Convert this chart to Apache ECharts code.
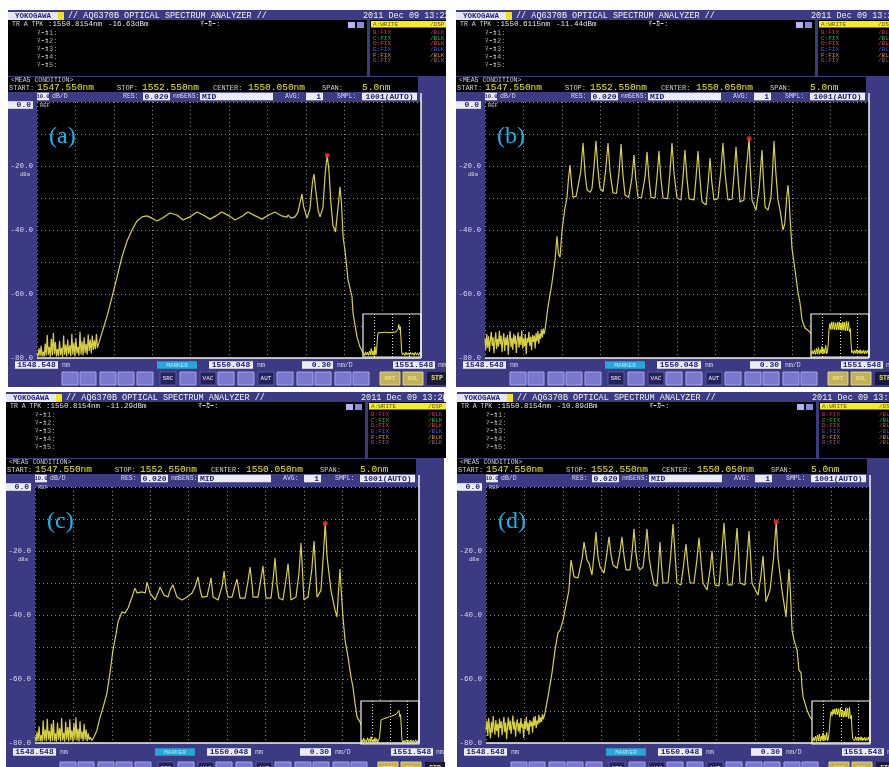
<!DOCTYPE html>
<html>
<head>
<meta charset="utf-8">
<title>AQ6370B spectra (a)-(d)</title>
<script src="https://cdn.jsdelivr.net/npm/echarts@6/dist/echarts.min.js"></script>
<style>
html, body { margin: 0; padding: 0; background: #fff; }
#chart { width: 889px; height: 767px; }
</style>
</head>
<body>
<div id="chart"></div>
<script>
// zoomed wavelength window, 0.30 nm/D
const xTicks = [1548.548, 1548.848, 1549.148, 1549.448, 1549.748, 1550.048, 1550.348, 1550.648, 1550.948, 1551.248, 1551.548];
const yLabels = [-20, -40, -60, -80];

// measured traces [nm, dBm]
const traceA = [
  [1548.548,-78.5],[1548.556,-79.6],[1548.564,-77.0],[1548.572,-79.4],[1548.580,-76.2],[1548.588,-79.5],[1548.596,-78.0],[1548.604,-79.6],
  [1548.612,-75.5],[1548.620,-79.3],[1548.628,-72.8],[1548.636,-79.0],[1548.644,-76.5],[1548.652,-79.6],[1548.660,-74.0],[1548.668,-79.2],
  [1548.676,-72.2],[1548.684,-78.8],[1548.692,-75.0],[1548.700,-79.5],[1548.708,-77.2],[1548.716,-79.4],[1548.724,-74.6],[1548.732,-79.1],
  [1548.740,-76.8],[1548.748,-79.6],[1548.756,-73.0],[1548.764,-79.0],[1548.772,-75.8],[1548.780,-79.5],[1548.788,-74.2],[1548.796,-78.8],
  [1548.804,-76.0],[1548.812,-79.4],[1548.820,-72.5],[1548.828,-79.0],[1548.836,-75.2],[1548.844,-79.5],[1548.852,-73.8],[1548.860,-78.6],
  [1548.868,-76.5],[1548.876,-79.3],[1548.884,-71.8],[1548.892,-78.9],[1548.900,-74.8],[1548.908,-79.2],[1548.916,-73.5],[1548.924,-78.4],
  [1548.932,-75.6],[1548.940,-79.0],[1548.948,-72.6],[1548.956,-77.8],[1548.964,-74.2],[1548.972,-78.6],[1548.980,-73.0],[1548.988,-77.5],
  [1548.996,-74.5],[1549.004,-77.2],[1549.012,-72.5],[1549.020,-76.8],[1549.030,-75.5],
  [1549.040,-75.3],[1549.064,-71.0],[1549.095,-67.0],[1549.134,-61.0],[1549.173,-54.7],[1549.212,-48.4],[1549.251,-43.5],[1549.290,-40.0],
  [1549.329,-37.2],[1549.368,-35.9],[1549.407,-35.6],[1549.446,-36.3],[1549.486,-37.2],[1549.532,-36.2],[1549.587,-34.7],[1549.642,-35.3],
  [1549.689,-36.9],[1549.743,-35.9],[1549.798,-34.4],[1549.850,-35.4],[1549.900,-36.6],[1549.950,-35.5],[1549.993,-34.4],[1550.045,-35.5],
  [1550.095,-36.9],[1550.150,-35.7],[1550.196,-34.4],[1550.250,-35.5],[1550.306,-36.6],[1550.355,-35.4],[1550.407,-34.4],[1550.460,-35.6],
  [1550.501,-36.0],[1550.509,-35.3],[1550.532,-36.3],[1550.564,-35.9],[1550.587,-34.4],[1550.605,-31.0],[1550.618,-28.7],[1550.630,-32.5],
  [1550.657,-36.3],[1550.680,-33.5],[1550.700,-25.0],[1550.712,-22.5],[1550.725,-27.5],[1550.745,-34.0],[1550.759,-35.9],[1550.782,-33.0],
  [1550.800,-22.0],[1550.8154,-16.63],[1550.829,-21.5],[1550.845,-32.0],[1550.860,-38.5],[1550.880,-40.6],[1550.892,-41.0],[1550.905,-31.0],
  [1550.915,-26.5],[1550.926,-31.5],[1550.940,-42.5],[1550.954,-46.3],[1550.978,-55.6],[1551.009,-60.9],[1551.017,-66.0],[1551.048,-73.4],
  [1551.071,-76.5],[1551.095,-78.4],[1551.120,-79.0],[1551.150,-78.2],[1551.200,-79.3],[1551.250,-77.8],[1551.300,-79.1],[1551.350,-78.0],
  [1551.400,-79.4],[1551.450,-78.3],[1551.500,-79.2],[1551.548,-78.6]
];
const traceB = [
  [1548.548,-74.0],[1548.555,-77.5],[1548.562,-72.5],[1548.569,-76.8],[1548.576,-73.2],[1548.583,-78.0],[1548.590,-74.5],[1548.597,-71.8],
  [1548.604,-76.2],[1548.611,-73.5],[1548.618,-78.5],[1548.625,-74.8],[1548.632,-72.0],[1548.639,-77.2],[1548.646,-74.0],[1548.653,-76.5],
  [1548.660,-71.5],[1548.667,-75.8],[1548.674,-73.0],[1548.681,-78.2],[1548.688,-74.6],[1548.695,-72.2],[1548.702,-77.8],[1548.709,-73.6],
  [1548.716,-76.0],[1548.723,-72.8],[1548.730,-79.0],[1548.737,-74.2],[1548.744,-71.6],[1548.751,-76.6],[1548.758,-73.8],[1548.765,-77.5],
  [1548.772,-72.4],[1548.779,-75.5],[1548.786,-73.0],[1548.793,-78.4],[1548.800,-74.4],[1548.807,-72.0],[1548.814,-76.8],[1548.821,-73.2],
  [1548.828,-75.9],[1548.835,-71.4],[1548.842,-77.0],[1548.849,-74.0],[1548.856,-76.4],[1548.863,-72.6],[1548.870,-78.8],[1548.877,-73.8],
  [1548.884,-75.2],[1548.891,-71.8],[1548.898,-76.2],[1548.905,-73.4],[1548.912,-77.6],[1548.919,-72.8],[1548.926,-75.0],[1548.933,-73.0],
  [1548.940,-77.0],[1548.947,-72.2],[1548.954,-74.8],[1548.961,-71.6],[1548.968,-75.5],[1548.975,-72.4],[1548.982,-74.0],[1548.989,-71.0],
  [1548.996,-73.6],[1549.003,-70.8],[1549.010,-72.5],
  [1549.017,-71.2],[1549.040,-64.0],[1549.071,-56.6],[1549.095,-49.4],[1549.110,-42.0],[1549.122,-47.5],[1549.134,-48.5],[1549.150,-40.0],
  [1549.170,-33.8],[1549.189,-29.7],[1549.200,-24.0],[1549.212,-19.7],[1549.224,-25.5],[1549.236,-29.7],[1549.260,-29.5],[1549.275,-29.0],
  [1549.295,-22.0],[1549.314,-12.8],[1549.330,-22.5],[1549.345,-27.5],[1549.370,-28.2],[1549.384,-27.0],[1549.400,-20.0],[1549.415,-12.2],
  [1549.430,-21.0],[1549.446,-26.9],[1549.470,-28.0],[1549.490,-21.5],[1549.509,-12.8],[1549.525,-22.0],[1549.548,-28.4],[1549.575,-28.6],
  [1549.595,-22.0],[1549.611,-13.1],[1549.625,-22.5],[1549.642,-29.1],[1549.670,-29.8],[1549.695,-24.0],[1549.712,-16.6],[1549.726,-24.0],
  [1549.743,-29.7],[1549.770,-30.0],[1549.798,-23.5],[1549.814,-15.6],[1549.828,-23.5],[1549.845,-29.8],[1549.876,-30.0],[1549.893,-23.0],
  [1549.907,-15.3],[1549.921,-23.5],[1549.939,-30.0],[1549.975,-30.2],[1549.992,-22.5],[1550.009,-12.8],[1550.025,-22.5],[1550.048,-30.0],
  [1550.079,-30.6],[1550.095,-23.5],[1550.110,-15.0],[1550.125,-23.5],[1550.142,-30.3],[1550.181,-30.6],[1550.197,-23.5],[1550.212,-15.3],
  [1550.227,-24.0],[1550.243,-31.2],[1550.275,-32.2],[1550.292,-25.0],[1550.306,-17.5],[1550.320,-25.0],[1550.337,-30.6],[1550.368,-30.2],
  [1550.390,-22.0],[1550.407,-12.8],[1550.424,-22.5],[1550.446,-30.6],[1550.478,-30.4],[1550.494,-22.5],[1550.509,-14.0],[1550.524,-23.0],
  [1550.540,-31.2],[1550.571,-30.6],[1550.590,-21.0],[1550.6115,-11.44],[1550.620,-20.5],[1550.634,-30.6],[1550.665,-33.8],[1550.690,-27.0],
  [1550.712,-15.0],[1550.724,-25.0],[1550.736,-32.8],[1550.759,-33.8],[1550.782,-30.0],[1550.795,-21.0],[1550.806,-12.2],[1550.820,-22.0],
  [1550.837,-30.6],[1550.853,-33.8],[1550.876,-40.0],[1550.890,-38.0],[1550.905,-30.0],[1550.915,-26.0],[1550.925,-31.0],[1550.931,-35.9],
  [1550.946,-45.6],[1550.970,-52.5],[1550.993,-59.5],[1551.009,-62.8],[1551.025,-68.1],[1551.048,-70.6],[1551.071,-71.3],
  [1551.120,-73.5],[1551.180,-71.8],[1551.240,-74.6],[1551.300,-72.2],[1551.360,-75.0],[1551.420,-72.6],[1551.480,-74.2],[1551.548,-73.0]
];
const traceC = [
  [1548.548,-78.0],[1548.556,-79.6],[1548.564,-76.5],[1548.572,-79.4],[1548.580,-74.8],[1548.588,-79.5],[1548.596,-77.5],[1548.604,-79.6],
  [1548.612,-73.0],[1548.620,-79.2],[1548.628,-75.8],[1548.636,-79.5],[1548.644,-72.4],[1548.652,-79.0],[1548.660,-76.2],[1548.668,-79.6],
  [1548.676,-74.0],[1548.684,-79.3],[1548.692,-72.8],[1548.700,-79.4],[1548.708,-77.0],[1548.716,-79.6],[1548.724,-73.6],[1548.732,-79.0],
  [1548.740,-75.4],[1548.748,-79.5],[1548.756,-72.2],[1548.764,-79.2],[1548.772,-76.8],[1548.780,-79.6],[1548.788,-73.4],[1548.796,-79.0],
  [1548.804,-75.0],[1548.812,-79.5],[1548.820,-72.6],[1548.828,-79.1],[1548.836,-76.0],[1548.844,-79.6],[1548.852,-73.8],[1548.860,-79.0],
  [1548.868,-72.0],[1548.876,-79.3],[1548.884,-75.6],[1548.892,-79.5],[1548.900,-73.2],[1548.908,-78.8],[1548.916,-76.4],[1548.924,-79.4],
  [1548.932,-74.0],[1548.940,-79.0],[1548.948,-75.8],[1548.956,-79.4],[1548.964,-77.0],[1548.972,-79.0],[1548.980,-78.2],[1548.992,-79.2],
  [1549.004,-78.5],[1549.016,-77.4],
  [1549.032,-76.0],[1549.056,-72.0],[1549.079,-69.0],[1549.110,-64.4],[1549.134,-58.0],[1549.157,-51.0],[1549.181,-46.0],[1549.196,-42.2],
  [1549.228,-39.0],[1549.251,-39.4],[1549.275,-37.8],[1549.306,-34.4],[1549.329,-31.6],[1549.345,-33.1],[1549.384,-32.8],[1549.410,-33.1],
  [1549.423,-29.7],[1549.446,-33.1],[1549.486,-35.3],[1549.510,-33.0],[1549.525,-31.3],[1549.556,-33.8],[1549.587,-34.4],[1549.605,-32.0],
  [1549.626,-30.6],[1549.657,-34.4],[1549.696,-35.3],[1549.736,-34.4],[1549.775,-33.1],[1549.800,-31.0],[1549.821,-28.1],[1549.840,-32.5],
  [1549.853,-34.4],[1549.892,-34.2],[1549.910,-31.0],[1549.923,-28.4],[1549.939,-34.4],[1549.978,-35.3],[1550.010,-31.0],[1550.025,-26.3],
  [1550.040,-31.5],[1550.056,-34.4],[1550.087,-34.4],[1550.110,-31.0],[1550.126,-28.8],[1550.150,-34.7],[1550.189,-34.7],[1550.210,-30.0],
  [1550.228,-25.0],[1550.245,-31.0],[1550.251,-34.4],[1550.290,-34.4],[1550.310,-29.5],[1550.329,-24.7],[1550.345,-31.5],[1550.353,-34.7],
  [1550.392,-34.7],[1550.408,-29.0],[1550.423,-22.2],[1550.440,-31.0],[1550.454,-34.7],[1550.485,-35.3],[1550.505,-30.0],[1550.525,-24.0],
  [1550.540,-31.5],[1550.548,-35.3],[1550.587,-34.4],[1550.610,-27.0],[1550.626,-17.5],[1550.640,-28.0],[1550.649,-35.3],[1550.681,-34.4],
  [1550.710,-26.0],[1550.728,-16.9],[1550.742,-27.0],[1550.751,-34.4],[1550.782,-32.3],[1550.800,-21.8],[1550.8154,-11.29],[1550.830,-21.9],
  [1550.860,-32.3],[1550.892,-38.4],[1550.907,-40.6],[1550.920,-32.0],[1550.931,-25.6],[1550.940,-32.3],[1550.954,-40.6],[1550.970,-47.8],
  [1550.993,-53.1],[1551.017,-59.4],[1551.032,-62.5],[1551.048,-67.5],[1551.064,-71.9],[1551.087,-73.4],[1551.103,-75.0],
  [1551.150,-77.5],[1551.200,-79.0],[1551.260,-77.2],[1551.320,-79.3],[1551.380,-77.8],[1551.440,-79.1],[1551.500,-78.0],[1551.548,-79.2]
];
const traceD = [
  [1548.548,-76.0],[1548.555,-73.0],[1548.562,-77.8],[1548.569,-72.2],[1548.576,-75.6],[1548.583,-78.6],[1548.590,-73.4],[1548.597,-76.8],
  [1548.604,-71.6],[1548.611,-75.0],[1548.618,-77.4],[1548.625,-72.8],[1548.632,-76.2],[1548.639,-74.0],[1548.646,-78.2],[1548.653,-72.4],
  [1548.660,-75.4],[1548.667,-73.2],[1548.674,-77.6],[1548.681,-74.4],[1548.688,-71.8],[1548.695,-76.6],[1548.702,-73.6],[1548.709,-78.8],
  [1548.716,-74.8],[1548.723,-72.0],[1548.730,-76.0],[1548.737,-73.0],[1548.744,-77.2],[1548.751,-74.6],[1548.758,-71.4],[1548.765,-75.8],
  [1548.772,-73.4],[1548.779,-78.0],[1548.786,-74.2],[1548.793,-72.6],[1548.800,-76.4],[1548.807,-73.8],[1548.814,-77.0],[1548.821,-72.2],
  [1548.828,-75.2],[1548.835,-74.0],[1548.842,-78.4],[1548.849,-73.0],[1548.856,-75.6],[1548.863,-71.8],[1548.870,-76.2],[1548.877,-73.6],
  [1548.884,-77.4],[1548.891,-72.8],[1548.898,-74.8],[1548.905,-73.2],[1548.912,-76.8],[1548.919,-72.0],[1548.926,-74.6],[1548.933,-71.6],
  [1548.940,-75.4],[1548.947,-73.0],[1548.954,-74.2],[1548.961,-71.2],[1548.968,-73.8],[1548.975,-72.0],[1548.982,-73.4],[1548.989,-71.0],
  [1548.996,-72.6],
  [1549.009,-70.6],[1549.032,-65.6],[1549.064,-58.0],[1549.087,-51.0],[1549.110,-45.6],[1549.126,-44.8],[1549.150,-41.6],[1549.181,-35.3],
  [1549.196,-32.2],[1549.212,-22.8],[1549.236,-28.1],[1549.267,-28.4],[1549.282,-28.1],[1549.300,-22.0],[1549.314,-17.2],[1549.337,-22.8],
  [1549.353,-23.8],[1549.376,-27.5],[1549.395,-20.0],[1549.407,-14.1],[1549.422,-21.5],[1549.439,-25.0],[1549.470,-26.9],[1549.492,-21.0],
  [1549.509,-15.6],[1549.524,-21.0],[1549.540,-24.4],[1549.571,-25.4],[1549.592,-21.0],[1549.610,-15.6],[1549.626,-21.5],[1549.642,-25.9],
  [1549.673,-25.9],[1549.690,-20.0],[1549.704,-13.1],[1549.720,-21.0],[1549.735,-25.0],[1549.751,-25.9],[1549.775,-25.0],[1549.792,-19.0],
  [1549.806,-13.1],[1549.822,-22.0],[1549.837,-25.9],[1549.861,-30.6],[1549.884,-30.9],[1549.897,-24.0],[1549.907,-17.2],[1549.920,-25.0],
  [1549.931,-30.0],[1549.970,-30.0],[1549.992,-21.0],[1550.009,-11.6],[1550.025,-21.0],[1550.040,-30.0],[1550.071,-30.6],[1550.093,-24.0],
  [1550.110,-17.8],[1550.125,-24.5],[1550.142,-30.0],[1550.173,-30.0],[1550.195,-23.0],[1550.212,-15.9],[1550.228,-23.5],[1550.243,-30.0],
  [1550.275,-32.2],[1550.298,-26.0],[1550.314,-20.0],[1550.326,-26.5],[1550.337,-30.6],[1550.368,-30.9],[1550.390,-21.0],[1550.407,-11.3],
  [1550.424,-21.0],[1550.439,-30.6],[1550.470,-30.6],[1550.492,-21.5],[1550.509,-12.8],[1550.522,-21.0],[1550.532,-30.0],[1550.571,-30.6],
  [1550.588,-22.0],[1550.603,-13.8],[1550.615,-22.0],[1550.626,-30.0],[1550.673,-33.8],[1550.695,-28.0],[1550.712,-21.6],[1550.725,-29.0],
  [1550.735,-35.9],[1550.767,-32.2],[1550.795,-22.0],[1550.8154,-10.89],[1550.829,-22.0],[1550.860,-32.2],[1550.892,-40.6],[1550.905,-32.0],
  [1550.915,-25.6],[1550.925,-32.0],[1550.939,-44.7],[1550.954,-47.8],[1550.978,-51.0],[1550.993,-57.2],[1551.009,-58.0],[1551.017,-62.5],
  [1551.025,-65.6],[1551.056,-69.7],[1551.079,-71.9],
  [1551.130,-74.2],[1551.190,-72.0],[1551.250,-75.0],[1551.310,-72.6],[1551.370,-74.8],[1551.430,-72.4],[1551.490,-74.0],[1551.548,-72.8]
];

// peak search markers
const peakA = [[1550.8154, -16.63]];
const peakB = [[1550.6115, -11.44]];
const peakC = [[1550.8154, -11.29]];
const peakD = [[1550.8154, -10.89]];

// full-span overview traces (1547.55 - 1552.55 nm)
const insetA = [
  [1547.55,-78],[1547.62,-74],[1547.70,-79],[1547.78,-72],[1547.86,-78],[1547.94,-73],[1548.02,-79],[1548.10,-71],[1548.18,-78],
  [1548.26,-66],[1548.34,-78],[1548.42,-70],[1548.50,-79],[1548.58,-62],[1548.66,-78],[1548.72,-70],[1548.78,-50],[1548.84,-36],
  [1548.95,-34.5],[1549.20,-35.5],[1549.50,-34.8],[1549.80,-35.6],[1550.10,-35.0],[1550.40,-34.2],[1550.50,-32],[1550.58,-28],
  [1550.64,-20],[1550.70,-30],[1550.76,-24],[1550.82,-45],[1550.88,-72],[1550.95,-78],[1551.05,-74],[1551.15,-79],[1551.25,-73],
  [1551.35,-78],[1551.45,-74],[1551.55,-79],[1551.65,-73],[1551.75,-78],[1551.85,-74],[1551.95,-79],[1552.05,-73],[1552.15,-78],
  [1552.25,-74],[1552.35,-79],[1552.45,-73],[1552.55,-78]
];
const insetB = [
  [1547.55,-73],[1547.62,-77],[1547.70,-70],[1547.78,-76],[1547.86,-68],[1547.94,-77],[1548.02,-66],[1548.10,-76],[1548.18,-64],
  [1548.26,-77],[1548.34,-68],[1548.42,-75],[1548.50,-62],[1548.58,-76],[1548.66,-66],[1548.74,-75],[1548.82,-60],[1548.90,-76],
  [1548.98,-70],[1549.04,-55],[1549.10,-30],[1549.18,-18],[1549.26,-30],[1549.34,-15],[1549.42,-29],[1549.50,-15],[1549.58,-30],
  [1549.66,-17],[1549.74,-30],[1549.82,-16],[1549.90,-30],[1549.98,-15],[1550.06,-30],[1550.14,-17],[1550.22,-31],[1550.30,-15],
  [1550.38,-31],[1550.46,-16],[1550.54,-32],[1550.62,-14],[1550.70,-32],[1550.78,-15],[1550.86,-34],[1550.94,-28],[1551.00,-55],
  [1551.06,-74],[1551.14,-70],[1551.22,-76],[1551.30,-69],[1551.38,-75],[1551.46,-68],[1551.54,-76],[1551.62,-70],[1551.70,-75],
  [1551.78,-68],[1551.86,-76],[1551.94,-70],[1552.02,-75],[1552.10,-69],[1552.18,-76],[1552.26,-70],[1552.34,-75],[1552.42,-69],
  [1552.50,-76],[1552.55,-72]
];
const insetC = [
  [1547.55,-79],[1547.63,-73],[1547.71,-79],[1547.79,-71],[1547.87,-78],[1547.95,-74],[1548.03,-79],[1548.11,-70],[1548.19,-78],
  [1548.27,-72],[1548.35,-79],[1548.43,-68],[1548.51,-78],[1548.59,-73],[1548.67,-79],[1548.75,-70],[1548.83,-78],[1548.91,-72],
  [1548.99,-79],[1549.07,-74],[1549.15,-70],[1549.22,-52],[1549.28,-36],[1549.40,-35],[1549.60,-33],[1549.80,-32],[1550.00,-30],
  [1550.20,-29],[1550.40,-27],[1550.60,-25],[1550.72,-23],[1550.82,-18],[1550.90,-30],[1550.96,-26],[1551.02,-48],[1551.08,-74],
  [1551.16,-79],[1551.26,-75],[1551.36,-79],[1551.46,-74],[1551.56,-79],[1551.66,-75],[1551.76,-79],[1551.86,-74],[1551.96,-79],
  [1552.06,-75],[1552.16,-79],[1552.26,-74],[1552.36,-79],[1552.46,-75],[1552.55,-79]
];
const insetD = [
  [1547.55,-72],[1547.62,-77],[1547.70,-69],[1547.78,-76],[1547.86,-67],[1547.94,-77],[1548.02,-65],[1548.10,-76],[1548.18,-63],
  [1548.26,-77],[1548.34,-67],[1548.42,-75],[1548.50,-61],[1548.58,-76],[1548.66,-65],[1548.74,-75],[1548.82,-60],[1548.90,-76],
  [1548.98,-69],[1549.06,-52],[1549.12,-33],[1549.20,-20],[1549.28,-28],[1549.36,-16],[1549.44,-25],[1549.52,-15],[1549.60,-26],
  [1549.68,-14],[1549.76,-26],[1549.84,-15],[1549.92,-30],[1550.00,-13],[1550.08,-30],[1550.16,-17],[1550.24,-31],[1550.32,-19],
  [1550.40,-30],[1550.46,-13],[1550.54,-30],[1550.62,-14],[1550.70,-33],[1550.78,-12],[1550.86,-34],[1550.94,-27],[1551.00,-56],
  [1551.06,-72],[1551.14,-69],[1551.22,-76],[1551.30,-68],[1551.38,-75],[1551.46,-69],[1551.54,-76],[1551.62,-70],[1551.70,-75],
  [1551.78,-68],[1551.86,-76],[1551.94,-70],[1552.02,-75],[1552.10,-69],[1552.18,-76],[1552.26,-70],[1552.34,-75],[1552.42,-69],
  [1552.50,-76],[1552.55,-72]
];

const traceRows = [['B:FIX', '#c82c70'], ['C:FIX', '#2cb82c'], ['D:FIX', '#dc4e30'], ['E:FIX', '#3c5cdc'], ['F:FIX', '#dc9c20'], ['G:FIX', '#846480']];

const panels = [
  { tag: '(a)', px: 37, py: 102, top: 10, bottom: 387, bOff: 0, time: '2011 Dec 09 13:22', tpk: '1550.8154', db: '-16.63', trace: traceA, peak: peakA, inset: insetA },
  { tag: '(b)', px: 485, py: 102, top: 10, bottom: 387, bOff: 0, time: '2011 Dec 09 13:24', tpk: '1550.6115', db: '-11.44', trace: traceB, peak: peakB, inset: insetB },
  { tag: '(c)', px: 35, py: 487, top: 392, bottom: 767, bOff: 2, time: '2011 Dec 09 13:20', tpk: '1550.8154', db: '-11.29', trace: traceC, peak: peakC, inset: insetC },
  { tag: '(d)', px: 486, py: 487, top: 392, bottom: 767, bOff: 2, time: '2011 Dec 09 13:18', tpk: '1550.8154', db: '-10.89', trace: traceD, peak: peakD, inset: insetD }
];

const PANEL = '#3c3a82';
const YEL = '#ece424';
const FONT = '"Liberation Mono", "DejaVu Sans Mono", monospace';

function txt(x, y, s, size, fill, opt) {
  opt = opt || {};
  const a = opt.align || 'left';
  return {
    type: 'text', x: x, y: y, z: 60, silent: true,
    style: {
      text: s, fill: fill,
      font: (opt.bold ? 'bold ' : '') + size + 'px ' + (opt.family || FONT),
      align: a, textAlign: a, verticalAlign: 'middle', textVerticalAlign: 'middle'
    }
  };
}
function box(x, y, w, h, fill, z, stroke) {
  return {
    type: 'rect', z: z === undefined ? 50 : z, silent: true,
    shape: { x: x, y: y, width: w, height: h },
    style: { fill: fill, stroke: stroke || null, lineWidth: stroke ? 1 : 0 }
  };
}
function line(x1, y1, x2, y2, color, w) {
  return { type: 'line', z: 55, silent: true, shape: { x1: x1, y1: y1, x2: x2, y2: y2 }, style: { stroke: color, lineWidth: w } };
}
function field(x, y, w, s, align, size) {
  const out = [box(x, y - 3.8, w, 7.6, '#ececf6')];
  const tx = align === 'right' ? x + w - 2 : (align === 'left' ? x + 2 : x + w / 2);
  out.push(txt(tx, y, s, size || 8, '#1c1c6e', { bold: true, align: align || 'center' }));
  return out;
}

function chrome(p) {
  const L = p.px, P = p.py, T = p.top;
  const g = [];
  const lt = '#dcdcec';
  g.push(box(L - 29, T, 438, p.bottom - T, PANEL, -10));
  // title bar
  g.push(box(L - 29, T + 2, 50, 8, '#e6e6f2'));
  g.push(txt(L - 4, T + 6, 'YOKOGAWA', 7.5, '#23237a', { bold: true, align: 'center' }));
  g.push(box(L + 21, T + 2, 6, 8, '#f2e21e'));
  g.push(txt(L + 31, T + 6, '// AQ6370B OPTICAL SPECTRUM ANALYZER //', 8.5, '#f0f0f0'));
  g.push(txt(L + 326, T + 6, p.time, 8.5, '#f0f0f0'));
  // marker readout
  g.push(box(L - 29, T + 10, 359, 56, '#000'));
  g.push(txt(L - 25, T + 14.5, 'TR A TPK', 6.5, '#d8d8d8'));
  g.push(txt(L + 11, T + 14.5, ':' + p.tpk + 'nm', 7.5, '#e4e4e4'));
  g.push(txt(L + 71, T + 14.5, p.db + 'dBm', 7.5, '#e4e4e4'));
  g.push(txt(L + 163, T + 14.5, 'ﾏｰｶｰ:', 7.5, '#d8d8d8'));
  for (let i = 1; i <= 5; i++) g.push(txt(L, T + 15 + i * 8, 'ﾏｰｶ' + i + ':', 7, '#a8a8a8'));
  g.push(box(L + 311, T + 12, 7, 6, '#b4b4f4'));
  g.push(box(L + 320, T + 12, 7, 6, '#8a8ada'));
  // trace status
  g.push(box(L + 333, T + 10, 80, 56, '#000'));
  g.push(box(L + 334, T + 11, 78, 6.5, '#f4ec2a'));
  g.push(txt(L + 336, T + 14.3, 'A:WRITE', 6, '#6a6000'));
  g.push(txt(L + 393, T + 14.3, '/DSP', 6, '#6a6000'));
  traceRows.forEach(function (r, i) {
    g.push(txt(L + 336, T + 22.3 + i * 5.7, r[0], 6, r[1]));
    g.push(txt(L + 393, T + 22.3 + i * 5.7, '/BLK', 6, r[1]));
  });
  // measurement conditions
  g.push(box(L - 29, T + 67, 410, 15, '#000'));
  g.push(txt(L - 26, T + 70.5, '<MEAS CONDITION>', 6.5, '#d0d0d0'));
  g.push(txt(L - 28, T + 78, 'START:', 7, '#d0d0d0'));
  g.push(txt(L, T + 77.5, '1547.550nm', 9.5, YEL));
  g.push(txt(L + 80, T + 78, 'STOP:', 7, '#d0d0d0'));
  g.push(txt(L + 105, T + 77.5, '1552.550nm', 9.5, YEL));
  g.push(txt(L + 176, T + 78, 'CENTER:', 7, '#d0d0d0'));
  g.push(txt(L + 211, T + 77.5, '1550.050nm', 9.5, YEL));
  g.push(txt(L + 285, T + 78, 'SPAN:', 7, '#d0d0d0'));
  g.push(txt(L + 325, T + 77.5, '5.0nm', 9.5, YEL));
  // settings row
  const r = T + 86.5;
  field(L, r, 12, '10.0', 'center', 5.5).forEach(e => g.push(e));
  g.push(txt(L + 15, r, 'dB/D', 6.5, lt));
  g.push(txt(L + 86, r, 'RES:', 6.5, lt));
  field(L + 106, r, 27, '0.020').forEach(e => g.push(e));
  g.push(txt(L + 136, r, 'nm', 6.5, lt));
  g.push(txt(L + 143, r, 'SENS:', 6.5, lt));
  field(L + 163, r, 73, 'MID', 'left').forEach(e => g.push(e));
  g.push(txt(L + 248, r, 'AVG:', 6.5, lt));
  field(L + 269, r, 17, '1', 'right').forEach(e => g.push(e));
  g.push(txt(L + 300, r, 'SMPL:', 6.5, lt));
  field(L + 325, r, 55, '1001(AUTO)').forEach(e => g.push(e));
  // reference level
  field(L - 29, T + 95, 25, '0.0', 'right').forEach(e => g.push(e));
  g.push(txt(L + 3, T + 96, 'REF', 5.5, '#c4c4c4'));
  g.push(txt(L - 12, P + 73, 'dBm', 5.5, '#d0d0d0', { align: 'center' }));
  // plot frame (right and bottom)
  g.push(line(L + 384, T + 83, L + 384, P + 256, '#f0f0f0', 1.5));
  g.push(line(L, P + 256, L + 384, P + 256, '#f0f0f0', 1.5));
  // wavelength readouts
  const b = P + 263 + p.bOff;
  field(L - 22, b, 43, xTicks[0].toFixed(3)).forEach(e => g.push(e));
  g.push(txt(L + 25, b, 'nm', 6.5, lt));
  g.push(box(L + 120, b - 3.8, 40, 7.6, '#2aa6d6'));
  g.push(txt(L + 140, b, 'MARKER', 6, '#a8eaff', { align: 'center' }));
  field(L + 172, b, 44, xTicks[5].toFixed(3)).forEach(e => g.push(e));
  g.push(txt(L + 220, b, 'nm', 6.5, lt));
  field(L + 265, b, 31, (xTicks[1] - xTicks[0]).toFixed(2), 'right').forEach(e => g.push(e));
  g.push(txt(L + 300, b, 'nm/D', 6.5, lt));
  field(L + 356, b, 42, xTicks[10].toFixed(3)).forEach(e => g.push(e));
  g.push(txt(L + 401, b, 'nm', 6.5, lt));
  // soft keys
  const by = P + 270 + p.bOff * 2.5;
  const keys = [25, 43, 63, 81, 100, 123, 143, 163, 181, 201, 221, 240, 260, 278, 298, 316];
  const dark = { 123: 'SRC', 163: 'VAC', 221: 'AUT' };
  keys.forEach(function (k) {
    if (dark[k]) {
      g.push(box(L + k, by, 16, 13, '#24225a', 50, '#5a58a8'));
      g.push(txt(L + k + 8, by + 6.5, dark[k], 6, '#f0f0f0', { align: 'center' }));
    } else {
      g.push(box(L + k, by, 16, 13, '#7a78cc', 50, '#a6a4ec'));
    }
  });
  g.push(box(L + 343, by, 20, 13, '#c4b25a', 50, '#e0d488'));
  g.push(txt(L + 353, by + 6.5, 'RPT', 6, '#f4eeb0', { align: 'center' }));
  g.push(box(L + 366, by, 20, 13, '#c4b25a', 50, '#e0d488'));
  g.push(txt(L + 376, by + 6.5, 'SGL', 6, '#f4eeb0', { align: 'center' }));
  g.push(box(L + 390, by, 20, 13, '#1a1a3e', 50));
  g.push(txt(L + 400, by + 6.5, 'STP', 6.5, YEL, { align: 'center', bold: true }));
  // panel tag
  g.push(txt(L + 12, P + 35, p.tag, 24, '#18b4ee', { family: '"Liberation Serif", "DejaVu Serif", serif' }));
  return g;
}

const grids = [], xAxes = [], yAxes = [], series = [];
let graphics = [];
const dotted = { color: '#8c8c8c', type: [1, 3], width: 1 };

panels.forEach(function (p, i) {
  grids.push({ left: p.px, top: p.py, width: 384, height: 256, show: true, backgroundColor: '#000', borderWidth: 0 });
  xAxes.push({
    type: 'value', gridIndex: i, min: xTicks[0], max: xTicks[xTicks.length - 1],
    axisLine: { show: false }, axisLabel: { show: false },
    axisTick: { show: false, customValues: xTicks },
    splitLine: { show: true, lineStyle: dotted }
  });
  yAxes.push({
    type: 'value', gridIndex: i, min: -80, max: 0, interval: 10,
    axisLine: { show: false }, axisTick: { show: false },
    splitLine: { show: true, lineStyle: dotted },
    axisLabel: {
      margin: 4, color: '#d8d8e8', fontSize: 7.5, fontFamily: FONT,
      formatter: function (v) { return yLabels.indexOf(v) >= 0 ? v.toFixed(1) : ''; }
    }
  });
  series.push({
    type: 'line', xAxisIndex: i, yAxisIndex: i, data: p.trace, showSymbol: false, z: 2,
    lineStyle: { color: '#d8d044', width: 1.2 }, animation: false, silent: true
  });
  series.push({
    type: 'scatter', xAxisIndex: i, yAxisIndex: i, data: p.peak, symbolSize: 5, z: 3,
    itemStyle: { color: '#ff2424' }, animation: false, silent: true
  });
  graphics = graphics.concat(chrome(p));
});

panels.forEach(function (p, i) {
  const k = 4 + i;
  grids.push({ left: p.px + 326, top: p.py + 212 + p.bOff, width: 58, height: 43, show: true, backgroundColor: '#000', borderColor: '#f4f4f4', borderWidth: 1.2, z: 4 });
  xAxes.push({ type: 'value', gridIndex: k, min: 1547.55, max: 1552.55, show: false, z: 5 });
  yAxes.push({ type: 'value', gridIndex: k, min: -82, max: 0, show: false, z: 5 });
  series.push({
    type: 'line', xAxisIndex: k, yAxisIndex: k, data: p.inset, showSymbol: false, z: 6,
    lineStyle: { color: '#ecea2a', width: 1 }, animation: false, silent: true,
    markLine: {
      silent: true, symbol: 'none', label: { show: false }, animation: false,
      lineStyle: { color: '#e8e8e8', type: [1, 2], width: 1 },
      data: [{ xAxis: xTicks[0] }, { xAxis: xTicks[5] }, { xAxis: xTicks[10] }]
    }
  });
});

// white gutters between the four screenshots
graphics.push(box(446, 0, 9, 767, '#fff', 100));
graphics.push(box(0, 387, 889, 5, '#fff', 100));

const chart = echarts.init(document.getElementById('chart'), null, { renderer: 'canvas' });
chart.setOption({
  backgroundColor: '#fff',
  animation: false,
  grid: grids,
  xAxis: xAxes,
  yAxis: yAxes,
  series: series,
  graphic: { elements: graphics }
});
</script>
</body>
</html>
